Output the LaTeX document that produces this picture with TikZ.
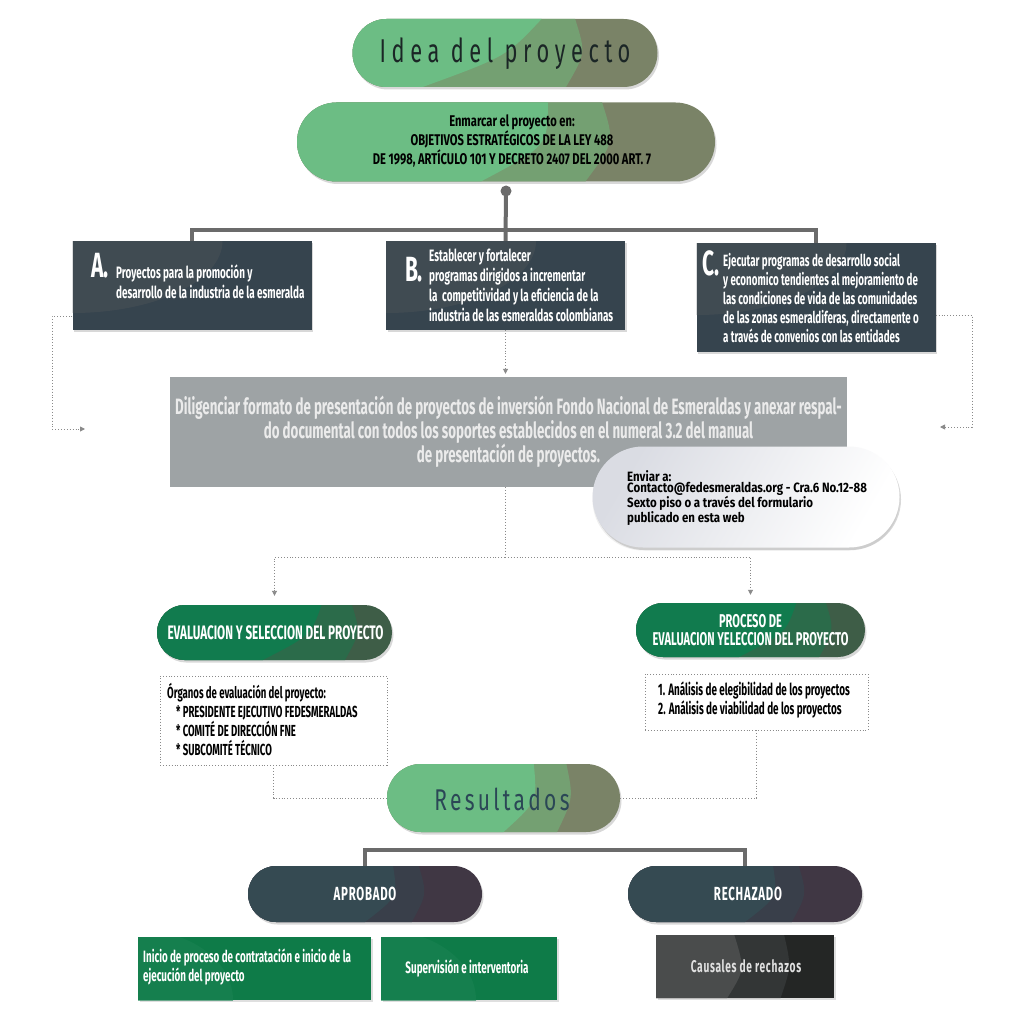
\documentclass[tikz,border=0pt]{standalone}
\usepackage{fontspec}
\setmainfont{Fira Sans}
\newfontfamily\cnd[FakeStretch=0.6]{Fira Sans}
\newfontfamily\cndw[FakeStretch=0.72]{Fira Sans}
\newfontfamily\cndm[FakeStretch=0.85]{Fira Sans}
\newfontfamily\ttlf[FakeStretch=0.66,LetterSpace=17]{Fira Sans}
\newfontfamily\rslf[FakeStretch=0.7,LetterSpace=11]{Fira Sans}
\newfontfamily\spcf[FakeStretch=0.6,LetterSpace=4]{Fira Sans}
\usetikzlibrary{shapes.misc,shadows,arrows.meta,calc}
\definecolor{lgA}{HTML}{6CBD84}
\definecolor{lgB}{HTML}{74A072}
\definecolor{lgC}{HTML}{7A8367}
\definecolor{dgA}{HTML}{117B4E}
\definecolor{dgB}{HTML}{2B6B4A}
\definecolor{dgC}{HTML}{3E5D47}
\definecolor{slA}{HTML}{354A52}
\definecolor{slB}{HTML}{393F4A}
\definecolor{slC}{HTML}{403744}
\definecolor{dkb}{HTML}{36444E}
\definecolor{dkl}{HTML}{4A5157}
\definecolor{grb}{HTML}{9EA3A5}
\definecolor{gnb}{HTML}{0E7B48}
\definecolor{gnl}{HTML}{1A8352}
\definecolor{cuA}{HTML}{4A4C4C}
\definecolor{cuB}{HTML}{333636}
\definecolor{cuC}{HTML}{242625}
\definecolor{barc}{HTML}{6B6B6B}
\definecolor{dotc}{HTML}{8A8A8A}
\definecolor{ttlc}{HTML}{1B2626}
\definecolor{resc}{HTML}{2B4756}
\definecolor{envl}{HTML}{DADCE3}
\tikzset{
  bands/.style n args={7}{fill=#3, path picture={
    \fill[#2] let \p1=(path picture bounding box.south west), \p2=(path picture bounding box.north east) in
      (\x1,\y1) -- ({\x1+#6*(\x2-\x1)},\y1) .. controls ({\x1+((#6+#7)/2+0.05)*(\x2-\x1)},{\y1+0.5*(\y2-\y1)}) .. ({\x1+#7*(\x2-\x1)},\y2) -- (\x1,\y2) -- cycle;
    \fill[#1] let \p1=(path picture bounding box.south west), \p2=(path picture bounding box.north east) in
      (\x1,\y1) -- ({\x1+#4*(\x2-\x1)},\y1) .. controls ({\x1+((#4+#5)/2+0.08)*(\x2-\x1)},{\y1+0.45*(\y2-\y1)}) .. ({\x1+#5*(\x2-\x1)},\y2) -- (\x1,\y2) -- cycle;
  }},
  pill/.style={rounded rectangle, draw=none, inner sep=0pt,
    drop shadow={shadow xshift=1.5pt, shadow yshift=-2.5pt, opacity=0.3}},
  darkbox/.style={rectangle, inner sep=0pt, fill=dkb,
    drop shadow={shadow xshift=1.5pt, shadow yshift=-2pt, opacity=0.3},
    path picture={\fill[dkl, opacity=0.55] (path picture bounding box.north west) circle [x radius=150pt, y radius=72pt];}},
  boxtxt/.style={inner sep=0pt, align=left, text=white, font=\cnd\bfseries\fontsize{16.5}{20}\selectfont},
  letter/.style={inner sep=0pt, text=white, font=\cnd\bfseries\fontsize{35}{35}\selectfont},
  bar/.style={draw=barc, line width=4pt},
  dots/.style={draw=dotc, dotted, line width=0.9pt},
  dotarrow/.style={dots, -{Triangle[length=5pt,width=5pt]}},
  dotbox/.style={rectangle, draw=dotc, dotted, line width=0.9pt, inner sep=0pt},
  greenbox/.style={rectangle, inner sep=0pt, fill=gnb,
    drop shadow={shadow xshift=1.5pt, shadow yshift=-2pt, opacity=0.25},
    path picture={\fill[gnl, opacity=0.6] (path picture bounding box.south west) circle [x radius=95pt, y radius=70pt];}},
}
\begin{document}
\begin{tikzpicture}[x=1pt,y=-1pt]
\useasboundingbox (0,0) rectangle (1024,1024);
\fill[white] (0,0) rectangle (1024,1024);

% top pills
\node[pill, bands={lgA}{lgB}{lgC}{0.23}{0.62}{0.70}{0.73}, minimum width=305pt, minimum height=68pt] (idea) at (505,53) {};
\node[text=ttlc, font=\ttlf\fontsize{33}{33}\selectfont, inner sep=0pt] (ideat) at (505,54) {Idea del proyecto};

\node[pill, bands={lgA}{lgB}{lgC}{0.44}{0.60}{0.69}{0.73}, minimum width=418pt, minimum height=79pt] (enm) at (506,142) {};
\node[align=center, text=black, font=\cndw\bfseries\fontsize{15.5}{16.5}\selectfont, inner sep=0pt] (enmt) at (512,141)
  {Enmarcar el proyecto en:\\OBJETIVOS ESTRATÉGICOS DE LA LEY 488\\DE 1998, ARTÍCULO 101 Y DECRETO 2407 DEL 2000 ART. 7};

\node[circle, fill=barc, minimum size=11pt, inner sep=0pt] (dot) at (506,191) {};
\coordinate (hub) at (505,230);

% A B C boxes
\node[darkbox, minimum width=239pt, minimum height=89pt] (boxA) at (192,285.5) {};
\node[darkbox, minimum width=239pt, minimum height=89pt] (boxB) at (505.5,285.5) {};
\node[darkbox, minimum width=239pt, minimum height=109pt] (boxC) at (816,297.5) {};

\draw[bar] (boxA.north) |- (hub) -| (boxC.north);
\draw[bar] (dot.center) -- (boxB.north);

\node[letter] (lA) at (100,266) {A.};
\node[boxtxt, anchor=west] (tA) at (116,282) {Proyectos para la promoción y\\desarrollo de la industria de la esmeralda};
\node[letter] (lB) at (414,270) {B.};
\node[boxtxt, anchor=west] (tB) at (429,285) {Establecer y fortalecer\\programas dirigidos a incrementar\\la\ \ competitividad y la eficiencia de la\\industria de las esmeraldas colombianas};
\node[letter] (lC) at (711,263) {C.};
\node[boxtxt, anchor=west, font=\cnd\bfseries\fontsize{16.3}{19.2}\selectfont] (tC) at (723,298) {Ejecutar programas de desarrollo social\\y economico tendientes al mejoramiento de\\las condiciones de vida de las comunidades\\de las zonas esmeraldiferas, directamente o\\a través de convenios con las entidades};

% gray box
\node[rectangle, fill=grb, minimum width=677pt, minimum height=110pt, inner sep=0pt] (gray) at (508.5,432) {};
\node[align=center, text=white!92!black, font=\cnd\bfseries\fontsize{22.2}{24}\selectfont, inner sep=0pt] (grayt) at (508.5,432)
  {Diligenciar formato de presentación de proyectos de inversión Fondo Nacional de Esmeraldas y anexar respal-\\do documental con todos los soportes establecidos en el numeral 3.2 del manual\\de presentación de proyectos.};

\coordinate (aL) at (85,429);
\coordinate (aR) at (940,427);
\draw[dotarrow] ($(boxA.south west)+(0,-14)$) -| (52,429) -- (aL);
\draw[dotarrow] ($(boxC.south east)+(0,-37)$) -| (972,427) -- (aR);
\draw[dotarrow, shorten >=3pt] (boxB.south) -- (gray.north-|boxB.south);

% Enviar pill
\node[pill, left color=envl, right color=white, shading angle=60, minimum width=307pt, minimum height=101pt,
  drop shadow={shadow xshift=0pt, shadow yshift=-3pt, opacity=0.12}] (env) at (746,497) {};
\node[anchor=west, align=left, text=black, font=\cndm\bfseries\fontsize{13.5}{11.7}\selectfont, inner sep=0pt] (envt) at (627,498)
  {Enviar a:\\Contacto@fedesmeraldas.org - Cra.6 No.12-88\\Sexto piso o a través del formulario\\publicado en esta web};

% split
\coordinate (split) at (505,557);
\node[pill, bands={dgA}{dgB}{dgC}{0.45}{0.70}{0.80}{0.83}, minimum width=235pt, minimum height=55pt] (evL) at (274.5,632.5) {};
\node[text=white, font=\cnd\bfseries\fontsize{19.5}{19}\selectfont, inner sep=0pt] (evLt) at (275.5,633) {EVALUACION Y SELECCION DEL PROYECTO};
\node[pill, bands={dgA}{dgB}{dgC}{0.45}{0.70}{0.80}{0.83}, minimum width=229pt, minimum height=54pt] (evR) at (750.5,630) {};
\node[align=center, text=white, font=\cnd\bfseries\fontsize{18.5}{18}\selectfont, inner sep=0pt] (evRt) at (750.5,630) {PROCESO DE\\EVALUACION YELECCION DEL PROYECTO};

\draw[dots] (gray.south-|split) -- (split);
\draw[dotarrow, shorten >=9pt] (split) -| (evL.north);
\draw[dotarrow, shorten >=8pt] (split) -| (evR.north);

% dotted boxes
\node[dotbox, minimum width=227pt, minimum height=89pt] (lbox) at (273.5,720.5) {};
\node[anchor=west, align=left, text=black, font=\cnd\bfseries\fontsize{16}{19}\selectfont, inner sep=0pt] (lboxt) at (167,719.5)
  {Órganos de evaluación del proyecto:\\\hspace*{9pt}* PRESIDENTE EJECUTIVO FEDESMERALDAS\\\hspace*{9pt}* COMITÉ DE DIRECCIÓN FNE\\\hspace*{9pt}* SUBCOMITÉ TÉCNICO};
\node[dotbox, minimum width=223pt, minimum height=56pt] (rbox) at (756.5,702) {};
\node[anchor=west, align=left, text=black, font=\cnd\bfseries\fontsize{16.5}{19}\selectfont, inner sep=0pt] (rboxt) at (658,699.5)
  {1. Análisis de elegibilidad de los proyectos\\2. Análisis de viabilidad de los proyectos};

% Resultados
\node[pill, bands={lgA}{lgB}{lgC}{0.50}{0.63}{0.73}{0.77}, minimum width=233pt, minimum height=68pt] (res) at (503.5,798) {};
\node[text=resc, font=\rslf\fontsize{30}{30}\selectfont, inner sep=0pt] (rest) at (502,799) {Resultados};
\draw[dots] (lbox.south) |- (res.west);
\draw[dots] (rbox.south) |- (res.east);

% results
\node[pill, bands={slA}{slB}{slC}{0.50}{0.62}{0.70}{0.73}, minimum width=234pt, minimum height=56pt] (apr) at (365,894) {};
\node[text=white, font=\spcf\bfseries\fontsize{19}{19}\selectfont, inner sep=0pt] (aprt) at (365,894) {APROBADO};
\node[pill, bands={slA}{slB}{slC}{0.50}{0.62}{0.70}{0.73}, minimum width=234pt, minimum height=56pt] (rech) at (745,894) {};
\node[text=white, font=\spcf\bfseries\fontsize{19}{19}\selectfont, inner sep=0pt] (recht) at (748,894) {RECHAZADO};
\coordinate (rbar) at (745,850);
\draw[bar] (apr.north) |- (rbar) -- (rech.north);

\node[greenbox, minimum width=233pt, minimum height=63pt] (g1) at (254.5,968.5) {};
\node[anchor=west, align=left, text=white, font=\cnd\bfseries\fontsize{16.4}{19}\selectfont, inner sep=0pt] (g1t) at (143,967)
  {Inicio de proceso de contratación e inicio de la\\ejecución del proyecto};
\node[greenbox, minimum width=176pt, minimum height=63pt] (g2) at (469,968.5) {};
\node[text=white, font=\cnd\bfseries\fontsize{16.5}{19}\selectfont, inner sep=0pt] (g2t) at (467,968.5) {Supervisión e interventoria};
\node[rectangle, inner sep=0pt, minimum width=178pt, minimum height=63pt, bands={cuA}{cuB}{cuC}{0.40}{0.44}{0.70}{0.72},
  drop shadow={shadow xshift=1.5pt, shadow yshift=-2pt, opacity=0.25}] (cau) at (745,966.5) {};
\node[text=white!88!black, font=\spcf\bfseries\fontsize{17}{19}\selectfont, inner sep=0pt] (caut) at (746,966.5) {Causales de rechazos};
\end{tikzpicture}
\end{document}
